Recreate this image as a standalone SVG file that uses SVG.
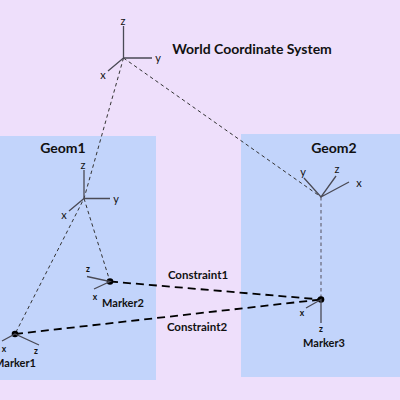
<svg xmlns="http://www.w3.org/2000/svg" width="400" height="400" viewBox="0 0 400 400">
<style>
text{font-family:"Lato","Open Sans",sans-serif;fill:#111}
.t{font-size:14px;font-weight:700}
.m{font-size:11px;font-weight:700}
.k{font-size:11.500px;font-weight:700}
.a{font-size:11px;font-weight:400}
.s{font-size:8.500px;font-weight:700}
.ax{stroke:#4a4a55;stroke-width:1.3;fill:none}
.d{stroke:#333;stroke-width:1;stroke-dasharray:3.5 3;fill:none}
.c{stroke:#000;stroke-width:1.8;stroke-dasharray:8 5;fill:none}
</style>
<rect width="400" height="400" fill="#eedffb"/>
<g id="geom1"><rect x="-1" y="136" width="157" height="244" fill="#c2d4fb"/><text class="t" x="63" y="153" text-anchor="middle">Geom1</text></g>
<g id="geom2"><rect x="241" y="134" width="159" height="243" fill="#c2d4fb"/><text class="t" x="334" y="153" text-anchor="middle">Geom2</text></g>
<g id="connectors">
<path class="d" d="M123.500 58L84 198.500L15 334"/>
<path class="d" d="M123.500 58L321 197"/>
<path class="d" d="M84 198.500L110 281.500"/>
<path class="d" d="M321 197V299.500" style="stroke:#667;stroke-width:1.200"/>
<path class="c" d="M110 281.500L321 299.500"/>
<path class="c" d="M15 334L321 299.500"/>
</g>
<g id="world"><path class="ax" d="M123.500 26V58H152M123.500 58L108 71"/><text class="a" x="123" y="25" text-anchor="middle">z</text><text class="a" x="158" y="62" text-anchor="middle">y</text><text class="a" x="103" y="79" text-anchor="middle">x</text><text class="t" x="252" y="54" text-anchor="middle">World Coordinate System</text></g>
<g id="frame1"><path class="ax" d="M84 170V198.500H110M84 198.500L69 211"/><text class="a" x="83" y="169" text-anchor="middle">z</text><text class="a" x="116" y="203" text-anchor="middle">y</text><text class="a" x="64" y="219" text-anchor="middle">x</text></g>
<g id="frame2"><path class="ax" d="M304 178L321 197L336 176M321 197L349 182"/><text class="a" x="303" y="176" text-anchor="middle">y</text><text class="a" x="337" y="173" text-anchor="middle">z</text><text class="a" x="359" y="187" text-anchor="middle">x</text></g>
<g id="marker1"><circle cx="15" cy="334" r="3.300"/><path class="ax" d="M2 341L15 334L39 345"/><text class="s" x="4" y="352" text-anchor="middle">x</text><text class="s" x="36" y="354" text-anchor="middle">z</text><text class="m" x="15" y="367" text-anchor="middle">Marker1</text></g>
<g id="marker2"><circle cx="110" cy="281.500" r="3.300"/><path class="ax" d="M87 276.500L110 281.500L94 289"/><text class="s" x="88" y="272" text-anchor="middle">z</text><text class="s" x="95" y="300" text-anchor="middle">x</text><text class="m" x="123" y="307" text-anchor="middle">Marker2</text></g>
<g id="marker3"><circle cx="321" cy="299.500" r="3.300"/><path class="ax" d="M306 308L321 299.500V323"/><text class="s" x="302" y="316" text-anchor="middle">x</text><text class="s" x="321" y="332" text-anchor="middle">z</text><text class="m" x="324" y="347" text-anchor="middle">Marker3</text></g>
<g id="labels"><text class="k" x="198" y="279" text-anchor="middle">Constraint1</text><text class="k" x="197" y="331" text-anchor="middle">Constraint2</text></g>
</svg>
